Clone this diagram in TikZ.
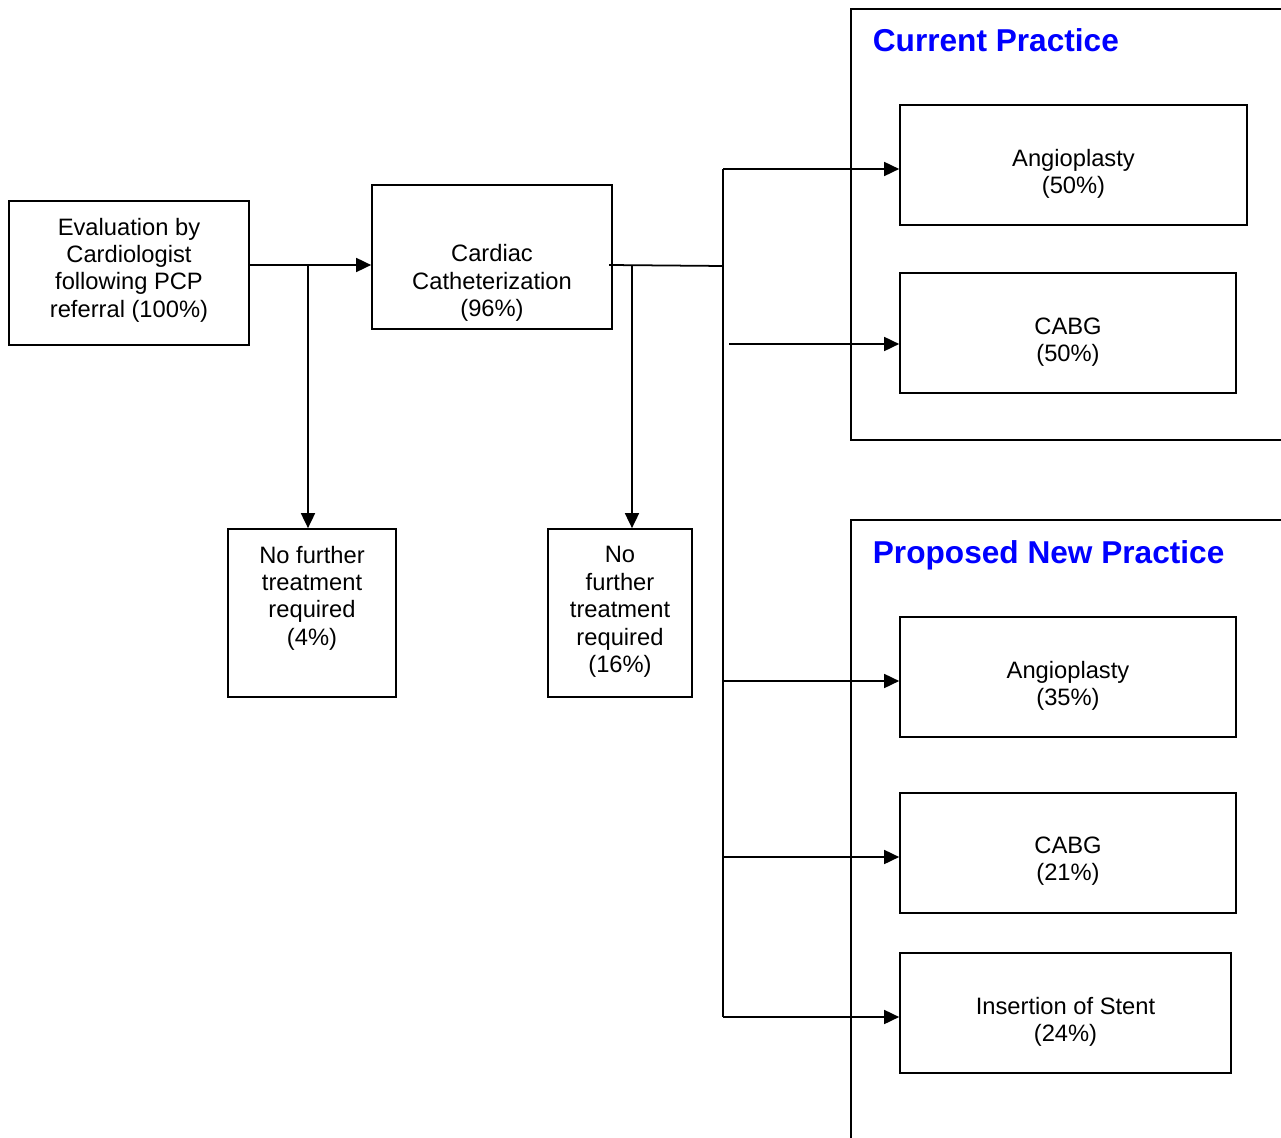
\documentclass[tikz,border=0pt]{standalone}
\usepackage{fontspec}
\setmainfont{Liberation Sans}
\usepackage{xcolor}
\usetikzlibrary{arrows.meta}
\usetikzlibrary{calc}
\usetikzlibrary{positioning}

\begin{document}
\begin{tikzpicture}[x=0.02cm,y=-0.02cm,->,>={Triangle[length=0.3cm,width=0.28cm]},line width=1pt,
  font=\fontsize{13.5}{15.6}\selectfont]
			\tikzstyle{box}=[draw, rectangle, inner sep=0pt, minimum height=2.4cm, minimum width=6.72cm]
			\tikzstyle{txt}=[align=center, inner sep=0pt]
			\tikzstyle{head}=[anchor=base west, inner sep=0pt, text=blue, font=\fontsize{18}{22}\selectfont\bfseries]
			\useasboundingbox (0,0) rectangle (1281,1138);
 					 \node[box, minimum width=4.8cm, minimum height=2.88cm, label={[txt,yshift=0.06cm]center:Evaluation by\\Cardiologist\\following PCP\\referral (100\%)}]   (E) at (129,273) {};
 					 \node[box, minimum width=4.8cm, minimum height=2.88cm, label={[txt,yshift=-0.52cm]center:Cardiac\\Catheterization\\(96\%)}]   (C) at (492,257) {};
 					 \node[box, minimum width=3.36cm, minimum height=3.36cm, label={[txt,yshift=0.3cm]center:No further\\treatment\\required\\(4\%)}]   (N1) at (312,613) {};
 					 \node[box, minimum width=2.88cm, minimum height=3.36cm, label={[txt,yshift=0.02cm]center:No\\further\\treatment\\required\\(16\%)}]   (N2) at (620,613) {};
 					 \node[box, minimum width=6.94cm, label={[txt,yshift=-0.18cm]center:Angioplasty\\(50\%)}]   (A1) at (1073.5,165) {};
 					 \node[box, label={[txt,yshift=-0.18cm]center:CABG\\(50\%)}]   (B1) at (1068,333) {};
 					 \node[box, label={[txt,yshift=-0.18cm]center:Angioplasty\\(35\%)}]   (A2) at (1068,677) {};
 					 \node[box, label={[txt,yshift=-0.16cm]center:CABG\\(21\%)}]   (B2) at (1068,853) {};
 					 \node[box, minimum width=6.62cm, label={[txt,yshift=-0.18cm]center:Insertion of Stent\\(24\%)}]   (S) at (1065.5,1013) {};

					 % practice frames
					 \draw[-] (1282,9) -- (851,9) -- (851,440) -- (1282,440);
					 \draw[-] (1282,520) -- (851,520) -- (851,1139);
					 \node[head] (P1) at (872,52) {Current Practice};
					 \node[head] (P2) at (872,563) {Proposed New Practice};

					 \coordinate (J1) at (308,265);
					 \coordinate (J2) at (632,265);
					 \coordinate (T0) at (723,266);
					 \coordinate (T1) at (723,169);
					 \coordinate (T2) at (729,344);
					 \coordinate (T3) at (723,681);
					 \coordinate (T4) at (723,857);
					 \coordinate (T5) at (723,1017);

					 \path
				(J1 -| E.east) edge (J1 -| C.west)
				(J1) edge (J1 |- N1.north)
				(609,265) edge[-] (T0)
				(J2) edge (J2 |- N2.north)
				(T1) edge[-] (T5)
				(T1) edge (T1 -| A1.west)
				(T2) edge (T2 -| B1.west)
				(T3) edge (T3 -| A2.west)
				(T4) edge (T4 -| B2.west)
				(T5) edge (T5 -| S.west)
				(723,408) edge[-, line width=1.5pt] (723,473)
				;

	\end{tikzpicture}
\end{document}
